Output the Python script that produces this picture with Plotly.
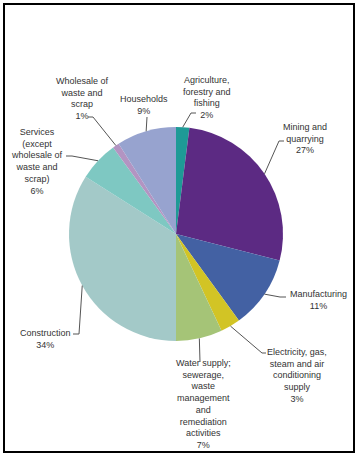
import math
import plotly.graph_objects as go

# ---- data ----
categories = [
    "Agriculture, forestry and fishing",
    "Mining and quarrying",
    "Manufacturing",
    "Electricity, gas, steam and air conditioning supply",
    "Water supply; sewerage, waste management and remediation activities",
    "Construction",
    "Services (except wholesale of waste and scrap)",
    "Wholesale of waste and scrap",
    "Households",
]
shares = [2, 27, 11, 3, 7, 34, 6, 1, 9]
label_texts = [
    "Agriculture,<br>forestry and<br>fishing<br>2%",
    "Mining and<br>quarrying<br>27%",
    "Manufacturing<br>11%",
    "Electricity, gas,<br>steam and air<br>conditioning<br>supply<br>3%",
    "Water supply;<br>sewerage,<br>waste<br>management<br>and<br>remediation<br>activities<br>7%",
    "Construction<br>34%",
    "Services<br>(except<br>wholesale of<br>waste and<br>scrap)<br>6%",
    "Wholesale of<br>waste and<br>scrap<br>1%",
    "Households<br>9%",
]
colors = ["#1E9A96", "#5C2A83", "#4361A3", "#D2C425", "#A5C477",
          "#A3C9C8", "#7EC8C2", "#B394C2", "#97A3CF"]

# ---- layout (pixels) ----
W, H = 363, 460
CX, CY, R = 176, 234, 107
# label centre positions (px)
label_pos = [(207, 97), (305, 138), (318, 300), (297, 375), (203, 404),
             (45, 339), (37, 161), (82, 98), (144, 105)]
# leader-line start (at label) and elbow (px)
leader_start = [(196, 113), (284, 141), (286, 297), (266, 353), (200, 362),
                (73, 334), (66, 156), (88, 117), (147, 117)]
leader_elbow = [(191, 113), (279, 141), (280, 297), (262, 353), (200, 362),
                (79, 334), (72, 156), (93, 117), (147, 117)]


def px(x, y):
    return x / W, 1 - y / H


fig = go.Figure(go.Pie(
    labels=categories,
    values=shares,
    sort=False,
    direction="clockwise",
    rotation=0,
    textinfo="none",
    hoverinfo="label+percent",
    marker=dict(colors=colors, line=dict(width=0)),
    showlegend=False,
    domain=dict(x=[(CX - R) / W, (CX + R) / W],
                y=[1 - (CY + R) / H, 1 - (CY - R) / H]),
))

total = sum(shares)
shapes = []
annotations = []
cum = 0
for i, v in enumerate(shares):
    mid = (cum + v / 2) / total * 2 * math.pi
    cum += v
    ex = CX + R * math.sin(mid)
    ey = CY - R * math.cos(mid)
    sx, sy = leader_start[i]
    bx, by = leader_elbow[i]
    p0 = px(sx, sy); p1 = px(bx, by); p2 = px(ex, ey)
    shapes.append(dict(
        type="path", xref="paper", yref="paper",
        path=f"M {p0[0]},{p0[1]} L {p1[0]},{p1[1]} L {p2[0]},{p2[1]}",
        line=dict(color="#555555", width=1)))
    lx, ly = px(*label_pos[i])
    annotations.append(dict(
        x=lx, y=ly, xref="paper", yref="paper", text=label_texts[i],
        showarrow=False, xanchor="center", yanchor="middle", align="center",
        font=dict(family="Liberation Sans, Arial, sans-serif", size=9, color="#333333")))

# outer frame
shapes.append(dict(type="rect", xref="paper", yref="paper",
                   x0=4 / W, x1=354 / W, y0=1 - 452 / H, y1=1 - 4 / H,
                   line=dict(color="black", width=2)))

fig.update_layout(
    width=W, height=H,
    margin=dict(l=0, r=0, t=0, b=0),
    paper_bgcolor="white", plot_bgcolor="white",
    shapes=shapes, annotations=annotations,
)

fig.write_html(
    "out.html",
    config={"displayModeBar": False},
    post_script="document.body.style.margin='0';document.body.style.overflow='hidden';",
)
